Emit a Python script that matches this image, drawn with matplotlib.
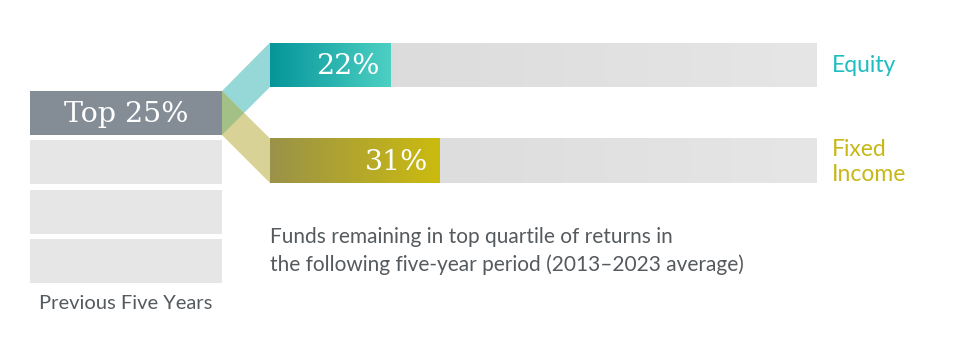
import numpy as np
import matplotlib.pyplot as plt
from matplotlib.colors import LinearSegmentedColormap
from matplotlib.patches import Polygon

# --- data ---
quartile_labels = ["Top 25%", "", "", ""]
categories = ["Equity", "Fixed\nIncome"]
remaining_pct = [22, 31]
track_max = 100

# --- colours ---
label_colors = ["#1DBDC0", "#C7B817"]
bar_grads = [("#05959A", "#4DD0C3"), ("#9A9249", "#CBBB0F")]
band_colors = ["#95D8D7", "#D8D297"]
overlap_color = "#A3C186"
top_color = "#848D96"
box_color = "#E6E6E6"
text_grey = "#555A5E"

serif = "DejaVu Serif"
sans = "Lato"

W, H = 958, 351
fig = plt.figure(figsize=(W / 100, H / 100), dpi=100)
ax = fig.add_axes([0, 0, 1, 1])
ax.set_xlim(0, W)
ax.set_ylim(H, 0)
ax.axis("off")

# layout in pixels
box_x0, box_w = 30, 192
row_top, row_h, row_gap = 91, 44, 5.3
bar_x0, bar_x1 = 270, 816
bar_tops = [42.5, 138.5]
bar_h = 44.5

# left column: quartile boxes
centers = [row_top + row_h / 2 + i * (row_h + row_gap) for i in range(len(quartile_labels))]
box_cols = [top_color] + [box_color] * (len(quartile_labels) - 1)
ax.barh(centers, box_w, left=box_x0, height=row_h, color=box_cols)
for c, lab in zip(centers, quartile_labels):
    if lab:
        ax.text(box_x0 + box_w / 2, c + 1, lab, ha="center", va="center",
                color="white", fontsize=20.5, family=serif)
ax.text(box_x0 + box_w / 2, centers[-1] + 43, "Previous Five Years", ha="center",
        va="center", color=text_grey, fontsize=14.5, family=sans)

# connectors from top box to each bar
x_a = box_x0 + box_w
y_a0, y_a1 = row_top, row_top + row_h
for top, col in zip(bar_tops, band_colors):
    ax.add_patch(Polygon([(x_a, y_a0), (bar_x0, top), (bar_x0, top + bar_h), (x_a, y_a1)],
                         closed=True, color=col, lw=0))
half = row_h / 2
ax.add_patch(Polygon([(x_a, y_a0), (x_a + half, y_a0 + half), (x_a, y_a1)],
                     closed=True, color=overlap_color, lw=0))

# right column: bars on their own axes in percent units
bx = fig.add_axes([bar_x0 / W, 1 - (bar_tops[1] + bar_h) / H,
                   (bar_x1 - bar_x0) / W, (bar_tops[1] + bar_h - bar_tops[0]) / H])
spacing = bar_tops[1] - bar_tops[0]
h = bar_h / spacing
grad = np.linspace(0, 1, 256).reshape(1, -1)
track_cmap = LinearSegmentedColormap.from_list("track", ["#D9D9D9", "#E6E6E6"])
for i, (val, (c0, c1)) in enumerate(zip(remaining_pct, bar_grads)):
    bx.imshow(grad, cmap=track_cmap, aspect="auto",
              extent=[0, track_max, i + h / 2, i - h / 2], interpolation="bicubic")
    cmap = LinearSegmentedColormap.from_list(f"g{i}", [c0, c1])
    bx.imshow(grad, cmap=cmap, aspect="auto",
              extent=[0, val, i + h / 2, i - h / 2], interpolation="bicubic")
    bx.text(val - 2, i + 0.02, f"{val}%", ha="right", va="center", color="white",
            fontsize=20.5, family=serif)
bx.set_xlim(0, track_max)
bx.set_ylim(1 + h / 2, -h / 2)
bx.axis("off")

# category labels
lab_y = [66, 162]
for y, lab, col in zip(lab_y, categories, label_colors):
    ax.text(832, y, lab, ha="left", va="center", color=col, fontsize=16.5,
            family=sans, linespacing=1.25)

ax.text(270, 251, "Funds remaining in top quartile of returns in\n"
        "the following five-year period (2013\u20132023 average)",
        ha="left", va="center", color=text_grey, fontsize=15, family=sans,
        linespacing=1.45)

fig.savefig("out.png", dpi=100)
